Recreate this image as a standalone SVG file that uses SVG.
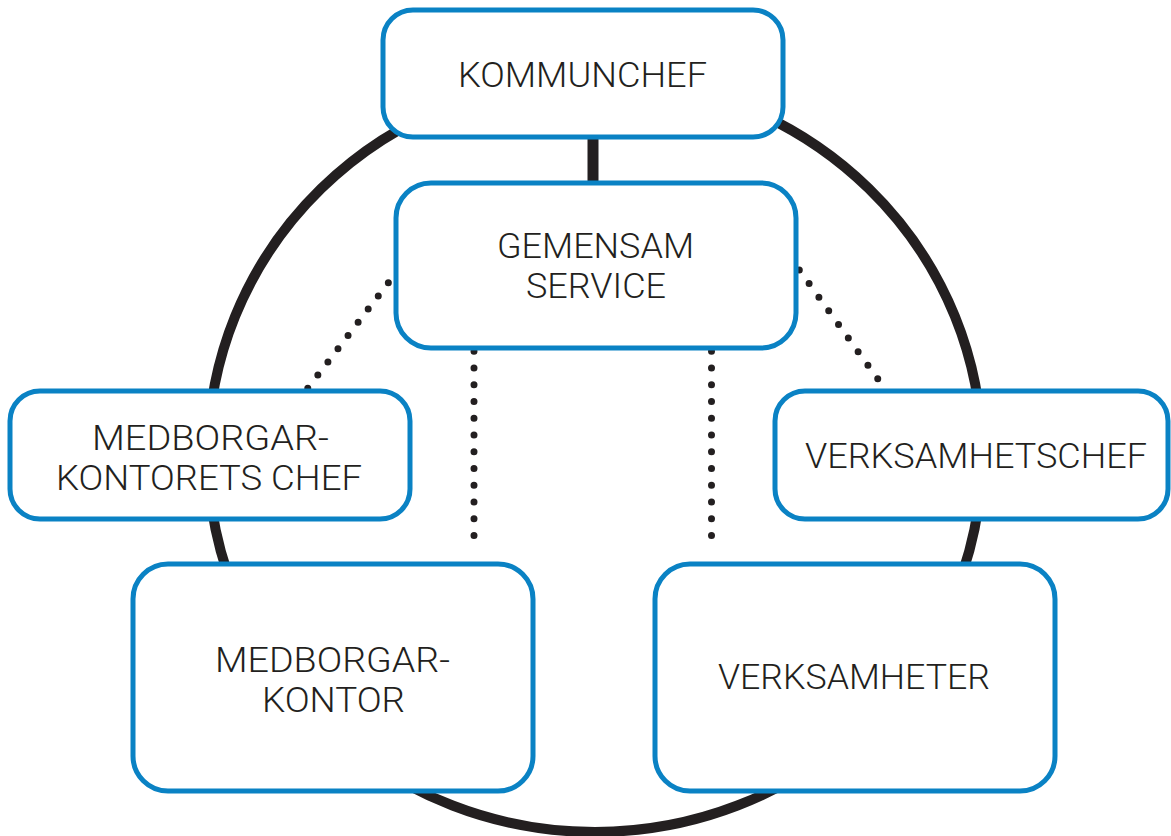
<svg xmlns="http://www.w3.org/2000/svg" width="1171" height="836" viewBox="0 0 1171 836">
  <style>
    .box { fill: #ffffff; stroke: #0a82c4; stroke-width: 5; }
    .lbl { font-family: Roboto, "Liberation Sans", sans-serif; font-weight: 300; font-size: 35px; fill: #231f20; }
    .ring { fill: none; stroke: #231f20; stroke-width: 10; }
    .solid { stroke: #231f20; stroke-width: 11; fill: none; }
    .dots { stroke: #231f20; stroke-width: 7; stroke-linecap: round; fill: none; }
  </style>
  <rect width="1171" height="836" fill="#ffffff"/>
  <g id="connectors">
    <ellipse class="ring" cx="595" cy="455" rx="387" ry="377"/>
    <line class="solid" x1="593" y1="130" x2="593" y2="190"/>
    <line class="dots" x1="398.4" y1="269.5" x2="297.6" y2="401.6" stroke-dasharray="0 16.6"/>
    <line class="dots" x1="799.3" y1="270" x2="887.5" y2="392.4" stroke-dasharray="0 16.77"/>
    <line class="dots" x1="474" y1="351.3" x2="474" y2="552.3" stroke-dasharray="0 16.75"/>
    <line class="dots" x1="711.5" y1="351.3" x2="711.5" y2="552.3" stroke-dasharray="0 16.75"/>
  </g>
  <g id="kommunchef">
    <rect class="box" x="383" y="10" width="400" height="127" rx="30"/>
    <text class="lbl" x="458" y="87" textLength="249" lengthAdjust="spacingAndGlyphs">KOMMUNCHEF</text>
  </g>
  <g id="gemensam-service">
    <rect class="box" x="396" y="183" width="400" height="165" rx="35"/>
    <text class="lbl" x="497" y="258" textLength="197" lengthAdjust="spacingAndGlyphs">GEMENSAM</text>
    <text class="lbl" x="526" y="298" textLength="140" lengthAdjust="spacingAndGlyphs">SERVICE</text>
  </g>
  <g id="medborgarkontorets-chef">
    <rect class="box" x="10" y="391" width="400" height="128" rx="30"/>
    <text class="lbl" x="92" y="450" textLength="237" lengthAdjust="spacingAndGlyphs">MEDBORGAR-</text>
    <text class="lbl" x="56" y="490" textLength="306" lengthAdjust="spacingAndGlyphs">KONTORETS CHEF</text>
  </g>
  <g id="verksamhetschef">
    <rect class="box" x="775" y="391" width="393" height="128" rx="30"/>
    <text class="lbl" x="805" y="468" textLength="342" lengthAdjust="spacingAndGlyphs">VERKSAMHETSCHEF</text>
  </g>
  <g id="medborgarkontor">
    <rect class="box" x="133" y="564" width="400" height="227" rx="35"/>
    <text class="lbl" x="215" y="672" textLength="235" lengthAdjust="spacingAndGlyphs">MEDBORGAR-</text>
    <text class="lbl" x="262" y="712" textLength="143" lengthAdjust="spacingAndGlyphs">KONTOR</text>
  </g>
  <g id="verksamheter">
    <rect class="box" x="655" y="564" width="400" height="227" rx="35"/>
    <text class="lbl" x="718" y="689" textLength="272" lengthAdjust="spacingAndGlyphs">VERKSAMHETER</text>
  </g>
</svg>
